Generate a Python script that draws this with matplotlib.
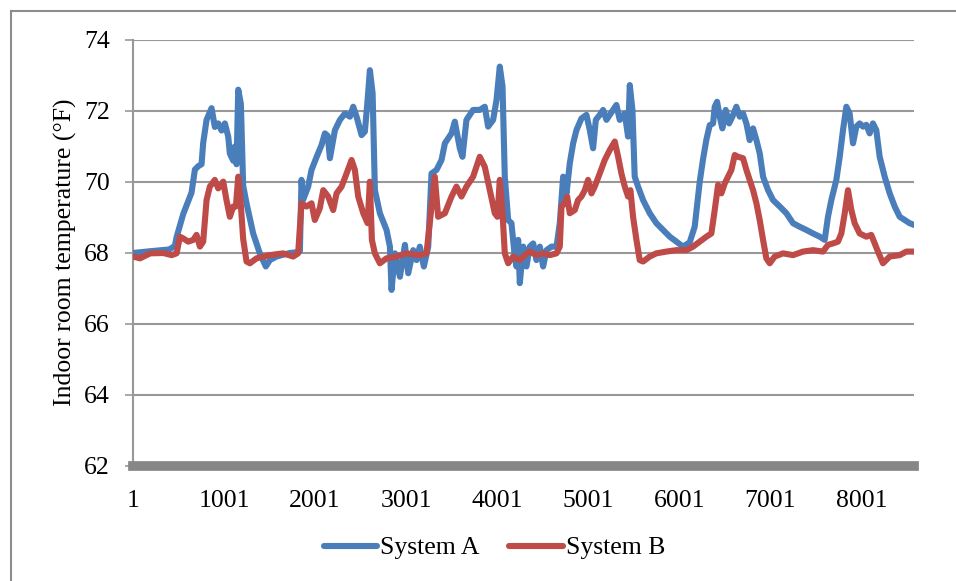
import matplotlib
matplotlib.use("Agg")
import matplotlib.pyplot as plt
from matplotlib.lines import Line2D

plt.rcParams['font.family'] = ['Liberation Serif', 'DejaVu Serif']

# ---------------- data ----------------
idx_a = [1, 190, 400, 461, 480, 553, 644, 681, 720, 754, 772, 809, 864, 900, 937, 974,
         1010, 1047, 1065, 1102, 1120, 1138, 1157, 1186, 1211, 1248, 1321, 1394, 1460,
         1504, 1577, 1724, 1797, 1834, 1852, 1870, 1925, 1962, 2017, 2072, 2109, 2140,
         2164, 2219, 2274, 2329, 2384, 2420, 2457, 2512, 2548, 2578, 2603, 2633, 2658,
         2713, 2786, 2823, 2841, 2878, 2933, 2988, 3024, 3079, 3116, 3152, 3196, 3244,
         3280, 3335, 3390, 3427, 3500, 3536, 3591, 3620, 3664, 3737, 3810, 3865, 3902,
         3957, 3994, 4030, 4060, 4085, 4122, 4158, 4195, 4213, 4232, 4250, 4287, 4323,
         4360, 4397, 4433, 4470, 4506, 4543, 4598, 4653, 4689, 4726, 4763, 4799, 4836,
         4872, 4927, 4982, 5019, 5055, 5085, 5128, 5165, 5202, 5238, 5275, 5311, 5348,
         5403, 5439, 5458, 5487, 5512, 5549, 5604, 5677, 5750, 5824, 5897, 5970, 6043,
         6116, 6171, 6226, 6263, 6300, 6336, 6373, 6391, 6417, 6446, 6475, 6512, 6549,
         6585, 6629, 6666, 6702, 6739, 6775, 6812, 6849, 6885, 6922, 6977, 7032, 7105,
         7178, 7251, 7324, 7397, 7471, 7544, 7599, 7635, 7672, 7727, 7764, 7800, 7837,
         7873, 7910, 7947, 7983, 8020, 8056, 8093, 8129, 8166, 8203, 8258, 8313, 8368,
         8423, 8478, 8532, 8580]
system_a = [68.00, 68.05, 68.10, 68.20, 68.45, 69.10, 69.70, 70.35, 70.45, 70.50, 71.10,
            71.75, 72.08, 71.55, 71.65, 71.45, 71.65, 71.28, 70.80, 70.60, 71.00, 70.50,
            72.60, 72.20, 69.90, 69.40, 68.55, 67.99, 67.62, 67.80, 67.90, 68.00, 68.02,
            68.05, 70.06, 69.50, 69.87, 70.34, 70.70, 71.04, 71.37, 71.30, 70.67, 71.46,
            71.75, 71.93, 71.84, 72.12, 71.84, 71.32, 71.42, 72.31, 73.15, 72.50, 69.77,
            69.12, 68.65, 68.18, 66.96, 67.99, 67.33, 68.23, 67.43, 68.08, 67.80, 68.18,
            67.62, 68.18, 70.24, 70.34, 70.62, 71.09, 71.37, 71.70, 70.95, 70.71, 71.75,
            72.03, 72.03, 72.12, 71.56, 71.75, 72.31, 73.25, 72.69, 70.15, 68.93, 68.84,
            67.90, 67.62, 68.37, 67.15, 68.18, 67.62, 68.18, 68.27, 67.80, 68.18, 67.62,
            68.08, 68.18, 68.18, 68.84, 70.15, 69.68, 70.53, 71.09, 71.46, 71.79, 71.89,
            71.46, 70.95, 71.75, 71.89, 72.03, 71.75, 71.89, 72.03, 72.17, 71.75, 71.93,
            71.28, 72.73, 72.03, 70.15, 69.87, 69.49, 69.12, 68.84, 68.65, 68.46, 68.32,
            68.18, 68.30, 68.74, 70.00, 70.65, 71.20, 71.60, 71.65, 72.12, 72.26, 71.84,
            71.51, 72.03, 71.65, 71.84, 72.12, 71.84, 71.93, 71.65, 71.18, 71.51, 71.18,
            70.81, 70.15, 69.77, 69.49, 69.31, 69.12, 68.84, 68.74, 68.65, 68.55, 68.46,
            68.37, 69.02, 69.49, 70.06, 70.71, 71.46, 72.12, 71.93, 71.09, 71.56, 71.65,
            71.56, 71.61, 71.37, 71.65, 71.46, 70.71, 70.15, 69.68, 69.31, 69.02, 68.93,
            68.84, 68.79]

idx_b = [1, 78, 190, 333, 425, 480, 516, 553, 608, 663, 699, 736, 772, 809, 845, 900,
         937, 992, 1028, 1065, 1102, 1131, 1157, 1182, 1211, 1248, 1285, 1358, 1504, 1651,
         1760, 1815, 1852, 1907, 1962, 1998, 2053, 2091, 2145, 2200, 2237, 2292, 2347,
         2402, 2438, 2475, 2530, 2578, 2603, 2625, 2658, 2713, 2786, 2896, 3005, 3152,
         3225, 3280, 3316, 3353, 3427, 3500, 3554, 3609, 3664, 3737, 3810, 3865, 3920,
         3975, 4004, 4030, 4060, 4085, 4122, 4176, 4250, 4287, 4360, 4433, 4506, 4579,
         4653, 4689, 4708, 4744, 4770, 4799, 4854, 4890, 4927, 4964, 5000, 5037, 5073,
         5128, 5183, 5238, 5293, 5330, 5366, 5403, 5439, 5465, 5494, 5531, 5567, 5604,
         5677, 5750, 5860, 5970, 6080, 6153, 6227, 6300, 6354, 6391, 6428, 6464, 6501,
         6537, 6574, 6611, 6647, 6702, 6739, 6775, 6812, 6849, 6885, 6922, 6958, 6995,
         7050, 7141, 7251, 7361, 7471, 7580, 7635, 7690, 7745, 7782, 7819, 7855, 7892,
         7928, 7983, 8056, 8111, 8148, 8184, 8239, 8313, 8423, 8496, 8580]
system_b = [67.90, 67.85, 67.99, 68.00, 67.94, 67.99, 68.46, 68.41, 68.32, 68.37, 68.51,
            68.18, 68.32, 69.49, 69.87, 70.06, 69.82, 70.01, 69.49, 69.02, 69.31, 69.31,
            70.15, 69.49, 68.40, 67.76, 67.71, 67.85, 67.94, 67.99, 67.90, 67.99, 69.40,
            69.31, 69.40, 68.93, 69.26, 69.77, 69.59, 69.21, 69.68, 69.87, 70.24, 70.62,
            70.34, 69.59, 69.12, 68.84, 70.01, 68.37, 67.99, 67.71, 67.85, 67.90, 67.99,
            67.94, 67.99, 69.31, 70.15, 69.02, 69.12, 69.59, 69.87, 69.59, 69.87, 70.15,
            70.71, 70.43, 69.77, 69.12, 69.02, 70.06, 69.12, 67.99, 67.71, 67.90, 67.80,
            67.90, 68.04, 67.94, 67.99, 67.94, 67.99, 68.18, 69.31, 69.40, 69.59, 69.12,
            69.21, 69.49, 69.59, 69.77, 70.06, 69.68, 69.87, 70.24, 70.62, 70.90, 71.14,
            70.71, 70.24, 69.87, 69.59, 69.77, 69.02, 68.37, 67.80, 67.76, 67.90, 67.99,
            68.04, 68.08, 68.08, 68.18, 68.32, 68.46, 68.55, 69.21, 69.92, 69.68, 69.96,
            70.15, 70.34, 70.76, 70.71, 70.67, 70.34, 70.06, 69.77, 69.40, 68.93, 68.37,
            67.85, 67.71, 67.90, 67.99, 67.94, 68.04, 68.08, 68.04, 68.23, 68.27, 68.32,
            68.55, 69.12, 69.77, 69.21, 68.84, 68.55, 68.46, 68.51, 68.27, 68.04, 67.71,
            67.90, 67.94, 68.04, 68.04]

x_ticks = [1, 1001, 2001, 3001, 4001, 5001, 6001, 7001, 8001]
y_ticks = [62, 64, 66, 68, 70, 72, 74]
series_names = ["System A", "System B"]
y_label = "Indoor room temperature (\u00b0F)"

# ---------------- figure ----------------
W, H = 956, 581
fig = plt.figure(figsize=(W / 100, H / 100), dpi=100)
ax = fig.add_axes([133 / W, 1 - 466 / H, (914 - 133) / W, (466 - 40) / H])

blue = "#4A7EBB"
red = "#BE4B48"
ax.plot(idx_a, system_a, color=blue, lw=4.4, solid_capstyle="round",
        solid_joinstyle="round", label=series_names[0], zorder=3)
ax.plot(idx_b, system_b, color=red, lw=4.4, solid_capstyle="round",
        solid_joinstyle="round", label=series_names[1], zorder=4)

ax.set_xlim(1, 8580)
ax.set_ylim(62, 74)
ax.set_xticks(x_ticks)
ax.set_yticks(y_ticks)
ax.set_xticklabels([str(t) for t in x_ticks])
ax.set_yticklabels([str(t) for t in y_ticks])

ax.grid(axis="y", color="#989898", lw=1.5, zorder=1)
ax.grid(axis="x", visible=False)
ax.set_axisbelow(True)

for s in ("top", "right"):
    ax.spines[s].set_visible(False)
ax.spines["left"].set_color("#989898")
ax.spines["left"].set_linewidth(1.5)
ax.spines["bottom"].set_color("#878787")
ax.spines["bottom"].set_linewidth(7)
ax.spines["bottom"].set_zorder(5)

ax.tick_params(axis="y", direction="out", length=5.8, width=1.2, color="#989898",
               pad=11, labelsize=18.5, labelcolor="black")
ax.tick_params(axis="x", length=0, pad=17, labelsize=18.5, labelcolor="black")

ax.set_ylabel(y_label, fontsize=18.5)
ax.yaxis.set_label_coords((77 - 133) / (914 - 133), 0.502)

fig.legend(loc="center", bbox_to_anchor=(0.517, 1 - 548 / H), ncol=2, frameon=False,
           fontsize=18.5, handlelength=2.1, handletextpad=0.1, columnspacing=1.15)

# chart-area border (only left and top edges fall inside the image)
fig.add_artist(Line2D([11 / W, 11 / W], [1 - 11 / H, -0.1], transform=fig.transFigure,
                      color="#8c8c8c", lw=1.5))
fig.add_artist(Line2D([11 / W, 1.1], [1 - 11 / H, 1 - 11 / H], transform=fig.transFigure,
                      color="#8c8c8c", lw=1.5))

fig.savefig("out.png", dpi=100)
